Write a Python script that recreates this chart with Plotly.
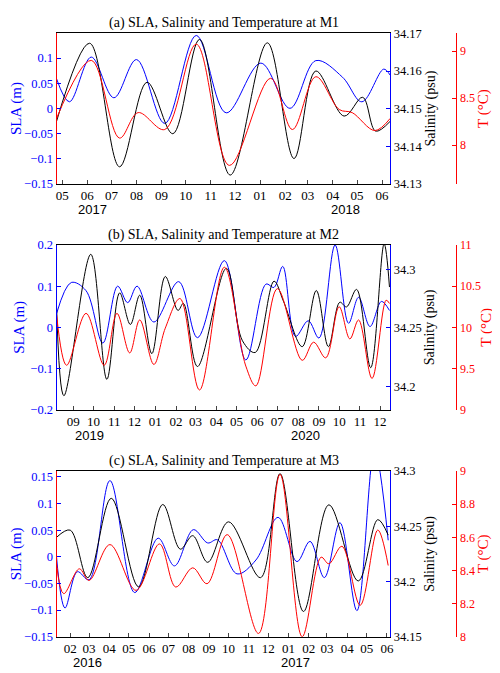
import plotly.graph_objects as go

# Panel (a) M1
a_sla_t = ["2017-04-24","2017-05-10","2017-06-06","2017-07-04","2017-08-01","2017-09-05","2017-10-14","2017-11-20","2018-01-02","2018-02-07","2018-03-11","2018-04-13","2018-05-07","2018-06-03","2018-06-11"]
a_sla = [0.059,0.013,0.102,0.021,0.097,-0.030,0.145,-0.009,0.090,0.000,0.095,0.062,0.013,0.078,0.066]
a_sal_t = ["2017-04-24","2017-06-04","2017-07-11","2017-08-14","2017-09-15","2017-10-18","2017-11-25","2018-01-10","2018-02-12","2018-03-11","2018-04-15","2018-05-08","2018-05-24","2018-06-11"]
a_sal = [34.1466,34.1674,34.1345,34.1570,34.1433,34.1684,34.1323,34.1675,34.1367,34.1600,34.1480,34.1530,34.1440,34.1466]
a_t_t = ["2017-04-24","2017-06-06","2017-07-11","2017-08-03","2017-09-05","2017-10-14","2017-11-24","2018-01-14","2018-02-10","2018-03-11","2018-04-09","2018-04-25","2018-05-23","2018-06-11"]
a_t = [8.285,8.903,8.076,8.347,8.167,9.076,7.785,8.712,8.167,8.729,8.38,8.347,8.156,8.285]

# Panel (b) M2
b_sla_t = ["2019-08-07","2019-08-29","2019-09-20","2019-10-15","2019-11-06","2019-11-21","2019-12-05","2019-12-30","2020-02-05","2020-03-04","2020-04-13","2020-05-15","2020-06-14","2020-06-26","2020-07-09","2020-07-28","2020-08-16","2020-09-01","2020-09-25","2020-10-15","2020-10-30","2020-11-16","2020-12-03","2020-12-15"]
b_sla = [0.033,0.109,0.089,-0.038,0.100,0.060,0.100,0.013,0.111,-0.025,0.162,-0.079,0.105,0.097,0.148,-0.022,0.016,-0.026,0.200,0.010,0.073,0.002,0.063,0.041]
b_sal_t = ["2019-08-07","2019-08-18","2019-09-27","2019-10-21","2019-11-09","2019-11-25","2019-12-09","2019-12-27","2020-01-16","2020-02-04","2020-02-12","2020-03-04","2020-04-16","2020-05-10","2020-05-29","2020-06-26","2020-07-10","2020-08-07","2020-08-28","2020-09-15","2020-10-02","2020-10-12","2020-10-27","2020-11-17","2020-12-07","2020-12-15"]
b_sal = [34.269,34.192,34.313,34.206,34.280,34.253,34.278,34.228,34.294,34.265,34.271,34.217,34.301,34.239,34.229,34.290,34.273,34.234,34.282,34.234,34.272,34.268,34.283,34.216,34.322,34.285]
b_t_t = ["2019-08-07","2019-08-22","2019-09-20","2019-10-17","2019-11-05","2019-11-24","2019-12-09","2019-12-30","2020-01-16","2020-02-07","2020-03-07","2020-04-13","2020-05-15","2020-05-30","2020-07-01","2020-08-07","2020-08-24","2020-09-11","2020-10-01","2020-10-17","2020-10-30","2020-11-19","2020-12-10","2020-12-15"]
b_t = [10.16,9.54,10.17,9.54,10.17,9.69,10.09,9.55,9.99,10.35,9.24,10.73,9.53,9.29,10.47,9.60,9.82,9.63,10.25,9.86,10.09,9.38,10.33,10.29]

# Panel (c) M3
c_sla_t = ["2016-01-11","2016-01-24","2016-02-12","2016-03-01","2016-04-02","2016-05-10","2016-06-15","2016-07-10","2016-08-08","2016-08-30","2016-09-14","2016-10-14","2016-11-12","2016-12-16","2017-01-14","2017-02-03","2017-02-25","2017-03-21","2017-04-16","2017-05-13","2017-06-03"]
c_sla = [0.0,-0.096,-0.028,-0.043,0.143,-0.067,0.035,-0.017,0.051,0.026,0.032,-0.032,-0.006,0.074,-0.009,0.029,-0.039,0.064,-0.101,0.200,0.031]
c_sal_t = ["2016-01-11","2016-02-01","2016-02-28","2016-04-04","2016-05-16","2016-06-22","2016-07-19","2016-08-07","2016-08-30","2016-10-01","2016-11-19","2016-12-19","2017-01-24","2017-03-04","2017-04-18","2017-05-18","2017-06-03"]
c_sal = [34.240,34.2465,34.2035,34.2753,34.1952,34.2697,34.2293,34.2415,34.2174,34.254,34.2035,34.2976,34.1729,34.2694,34.2005,34.256,34.242]
c_t_t = ["2016-01-11","2016-01-22","2016-02-15","2016-03-01","2016-04-02","2016-05-12","2016-06-17","2016-07-12","2016-08-07","2016-08-29","2016-09-29","2016-11-16","2016-12-19","2017-01-22","2017-02-20","2017-03-04","2017-03-24","2017-04-21","2017-05-18","2017-06-03"]
c_t = [8.44,8.26,8.41,8.34,8.556,8.28,8.56,8.30,8.416,8.32,8.616,8.02,8.98,8.00,8.48,8.44,8.546,8.19,8.644,8.43]

panels = [
    dict(title="(a) SLA, Salinity and Temperature at M1", sla_t=a_sla_t, sla=a_sla, sal_t=a_sal_t, sal=a_sal, t_t=a_t_t, t=a_t,
         xr=["2017-04-24","2018-06-11"], slar=[-0.15,0.149], slat=[-0.15,-0.1,-0.05,0,0.05,0.1],
         salr=[34.13,34.17], salt=[34.13,34.14,34.15,34.16,34.17], tr=[7.59,9.19], tt=[8,8.5,9],
         dom=[0.744,0.972], years=[("2017-06-08","2017"),("2018-04-17","2018")], leftc="red"),
    dict(title="(b) SLA, Salinity and Temperature at M2", sla_t=b_sla_t, sla=b_sla, sal_t=b_sal_t, sal=b_sal, t_t=b_t_t, t=b_t,
         xr=["2019-08-07","2020-12-16"], slar=[-0.2,0.2], slat=[-0.2,-0.1,0,0.1,0.2],
         salr=[34.180,34.321], salt=[34.2,34.25,34.3], tr=[9,11], tt=[9,9.5,10,10.5,11],
         dom=[0.401,0.651], years=[("2019-09-25","2019"),("2020-08-12","2020")], leftc="blue"),
    dict(title="(c) SLA, Salinity and Temperature at M3", sla_t=c_sla_t, sla=c_sla, sal_t=c_sal_t, sal=c_sal, t_t=c_t_t, t=c_t,
         xr=["2016-01-11","2017-06-06"], slar=[-0.15,0.161], slat=[-0.15,-0.1,-0.05,0,0.05,0.1,0.15],
         salr=[34.15,34.30], salt=[34.15,34.2,34.25,34.3], tr=[8,9], tt=[8,8.2,8.4,8.6,8.8,9],
         dom=[0.0565,0.308], years=[("2016-02-27","2016"),("2017-01-12","2017")], leftc="red"),
]

serif = "Liberation Serif"
fig = go.Figure()
layout = dict(width=500, height=673, margin=dict(l=0, r=0, t=0, b=0), showlegend=False,
              plot_bgcolor="white", paper_bgcolor="white", annotations=[])
for i, p in enumerate(panels):
    xn = i + 1
    y1, y2, y3 = 3*i + 1, 3*i + 2, 3*i + 3
    xa = f"x{xn}" if xn > 1 else "x"
    def yn(k): return f"y{k}" if k > 1 else "y"
    def lk(prefix, k): return prefix + (str(k) if k > 1 else "")
    fig.add_trace(go.Scatter(x=p["sla_t"], y=p["sla"], xaxis=xa, yaxis=yn(y1), mode="lines",
                             line=dict(color="blue", width=1, shape="spline", smoothing=1.0)))
    fig.add_trace(go.Scatter(x=p["sal_t"], y=p["sal"], xaxis=xa, yaxis=yn(y2), mode="lines",
                             line=dict(color="black", width=1, shape="spline", smoothing=1.0)))
    fig.add_trace(go.Scatter(x=p["t_t"], y=p["t"], xaxis=xa, yaxis=yn(y3), mode="lines",
                             line=dict(color="red", width=1, shape="spline", smoothing=1.0)))
    layout[lk("xaxis", xn)] = dict(domain=[0.096, 0.77], anchor=yn(y1), range=p["xr"], type="date",
        dtick="M1", tickformat="%m", ticks="inside", ticklen=4,
        showline=True, linecolor="black", mirror=True, showgrid=False,
        tickfont=dict(family=serif, size=13, color="black"))
    layout[lk("yaxis", y1)] = dict(domain=p["dom"], anchor=xa, range=p["slar"], tickvals=p["slat"],
        showgrid=False, zeroline=False, showline=True, linecolor=p["leftc"], ticks="inside", ticklen=4,
        tickcolor="blue", tickfont=dict(family=serif, size=12.5, color="blue"),
        title=dict(text="SLA (m)", font=dict(family=serif, size=15, color="blue"), standoff=2))
    layout[lk("yaxis", y2)] = dict(domain=p["dom"], anchor=xa, overlaying=yn(y1), side="right",
        range=p["salr"], tickvals=p["salt"], showgrid=False, zeroline=False, showline=True, linecolor="blue",
        ticks="inside", ticklen=4, tickcolor="blue", tickfont=dict(family=serif, size=12.5, color="black"),
        title=dict(text="Salinity (psu)", font=dict(family=serif, size=14, color="black"), standoff=2))
    layout[lk("yaxis", y3)] = dict(domain=p["dom"], anchor="free", position=0.904, overlaying=yn(y1),
        side="right", range=p["tr"], tickvals=p["tt"], showgrid=False, zeroline=False, showline=True,
        linecolor="red", ticks="inside", ticklen=4, tickcolor="red",
        tickfont=dict(family=serif, size=12, color="red"),
        title=dict(text="T (°C)", font=dict(family=serif, size=15, color="red"), standoff=0))
    layout["annotations"].append(dict(text=p["title"], xref="paper", yref="paper", x=0.434, y=p["dom"][1],
        xanchor="center", yanchor="bottom", showarrow=False, font=dict(family=serif, size=14, color="black")))
    for d, lab in p["years"]:
        layout["annotations"].append(dict(text=lab, xref=xa, yref="paper", x=d, y=p["dom"][0], yshift=-16,
            xanchor="center", yanchor="top", showarrow=False,
            font=dict(family="Liberation Sans", size=13, color="black")))

fig.update_layout(**layout)
fig.write_html("out.html")
